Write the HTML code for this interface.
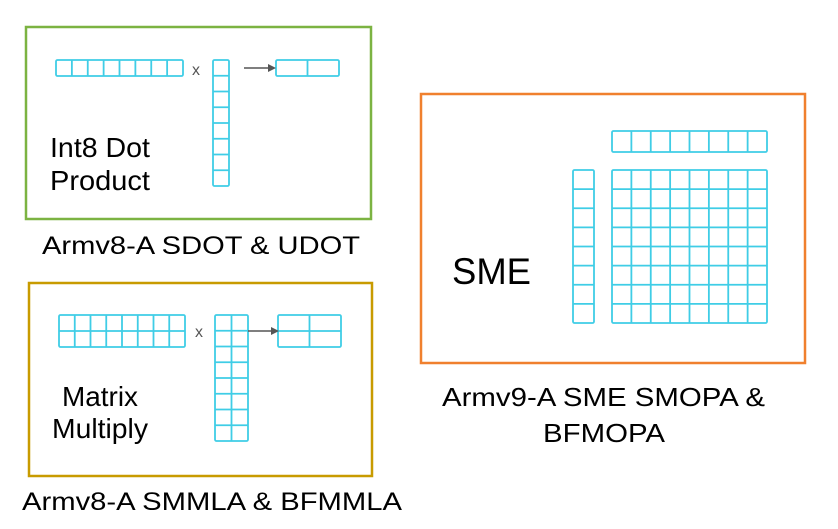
<!DOCTYPE html>
<html><head><meta charset="utf-8"><style>
html,body{margin:0;padding:0;background:#fff;}
svg{display:block;font-family:"Liberation Sans",Arial,sans-serif;}
</style></head><body>
<svg id="d" width="838" height="529" viewBox="0 0 838 529">
<rect x="26" y="27" width="345" height="192" fill="none" stroke="#7cb342" stroke-width="2.5"/>
<rect x="29" y="283" width="343" height="193" fill="none" stroke="#c89b00" stroke-width="2.5"/>
<rect x="421" y="94" width="384" height="269" fill="none" stroke="#f0802e" stroke-width="2.5"/>
<g id="grids" fill="none" stroke="#3fcde6" stroke-width="1.8"></g>
<g fill="#555" font-size="16">
<text x="192" y="75">x</text>
<text x="195" y="337">x</text>
</g>
<g stroke="#555" stroke-width="1.5" fill="#555">
<line x1="244" y1="68" x2="268" y2="68"/><polygon points="268,64 276,68 268,72" stroke="none"/>
<line x1="248" y1="331" x2="271" y2="331"/><polygon points="271,327 279,331 271,335" stroke="none"/>
</g>
<g fill="#000">
<text x="50" y="157" font-size="28" textLength="100" lengthAdjust="spacingAndGlyphs">Int8 Dot</text>
<text x="50" y="190" font-size="28" textLength="100" lengthAdjust="spacingAndGlyphs">Product</text>
<text x="42" y="254" font-size="25" textLength="318" lengthAdjust="spacingAndGlyphs">Armv8-A SDOT &amp; UDOT</text>
<text x="62" y="406" font-size="28" textLength="76" lengthAdjust="spacingAndGlyphs">Matrix</text>
<text x="52" y="438" font-size="28" textLength="96" lengthAdjust="spacingAndGlyphs">Multiply</text>
<text x="22" y="510" font-size="25" textLength="380" lengthAdjust="spacingAndGlyphs">Armv8-A SMMLA &amp; BFMMLA</text>
<text x="452" y="284" font-size="37" textLength="79" lengthAdjust="spacingAndGlyphs">SME</text>
<text x="442" y="406" font-size="26" textLength="323" lengthAdjust="spacingAndGlyphs">Armv9-A SME SMOPA &amp;</text>
<text x="543" y="442" font-size="26" textLength="122" lengthAdjust="spacingAndGlyphs">BFMOPA</text>
</g>
</svg>
<script>
const grids=[
 {name:'dot-row-vector',x:56,y:60,w:127,h:16,cols:8,rows:1},
 {name:'dot-col-vector',x:213,y:60,w:16,h:126,cols:1,rows:8},
 {name:'dot-result',x:276,y:60,w:63,h:16,cols:2,rows:1},
 {name:'mm-row-matrix',x:59,y:315,w:126,h:32,cols:8,rows:2},
 {name:'mm-col-matrix',x:215,y:315,w:33,h:126,cols:2,rows:8},
 {name:'mm-result',x:278,y:315,w:63,h:32,cols:2,rows:2},
 {name:'sme-top-vector',x:612,y:131,w:155,h:21,cols:8,rows:1},
 {name:'sme-left-vector',x:573,y:170,w:21,h:153,cols:1,rows:8},
 {name:'sme-outer-product-grid',x:612,y:170,w:155,h:153,cols:8,rows:8}
];
const g=document.getElementById('grids');
const NS='http://www.w3.org/2000/svg';
grids.forEach(o=>{
 const gg=document.createElementNS(NS,'g');
 
 
 const r=document.createElementNS(NS,'rect');
 r.setAttribute('x',o.x);r.setAttribute('y',o.y);r.setAttribute('width',o.w);r.setAttribute('height',o.h);r.setAttribute('rx',1.5);
 gg.appendChild(r);
 let d='';
 for(let i=1;i<o.cols;i++){const x=o.x+o.w*i/o.cols;d+=`M${x} ${o.y}V${o.y+o.h}`;}
 for(let j=1;j<o.rows;j++){const y=o.y+o.h*j/o.rows;d+=`M${o.x} ${y}H${o.x+o.w}`;}
 if(d){const p=document.createElementNS(NS,'path');p.setAttribute('d',d);gg.appendChild(p);}
 g.appendChild(gg);
});
</script>
</body></html>
